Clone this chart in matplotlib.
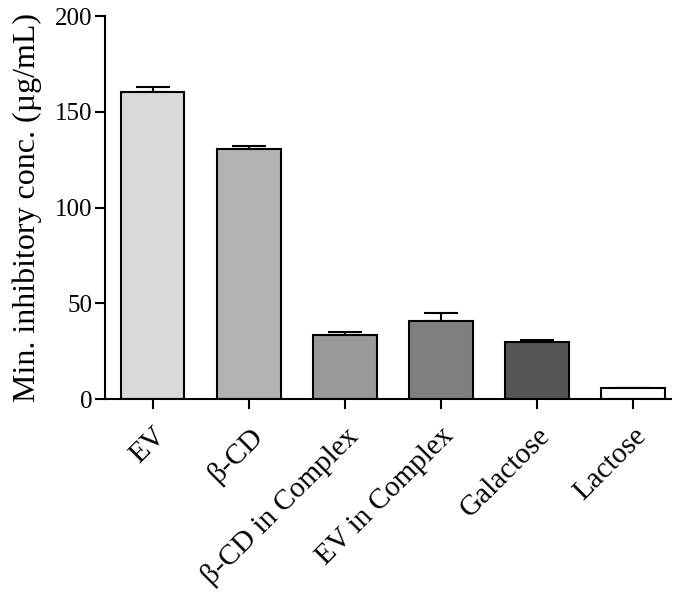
import matplotlib
matplotlib.use("Agg")
import matplotlib.pyplot as plt
import numpy as np

categories = ["EV", "β-CD", "β-CD in Complex", "EV in Complex", "Galactose", "Lactose"]
values = [160.3, 130.5, 33.4, 40.9, 29.6, 5.6]
errors = [2.7, 1.6, 1.8, 3.8, 1.2, 0.0]
colors = ["#d9d9d9", "#b3b3b3", "#999999", "#808080", "#555555", "#ffffff"]
yticks = [0, 50, 100, 150, 200]

plt.rcParams['font.family'] = ['Liberation Serif', 'DejaVu Serif']

fig = plt.figure(figsize=(6.85, 5.93), dpi=100)
ax = fig.add_axes([0.153, 0.327, 0.827, 0.646])

x = np.arange(len(categories))
ax.bar(x, values, width=0.66, color=colors, edgecolor="black", linewidth=1.5, zorder=2)
ax.errorbar(x, values, yerr=[np.zeros(len(errors)), errors], fmt="none",
            ecolor="black", elinewidth=1.5, capsize=12, capthick=1.5, zorder=1)

ax.set_ylim(0, 200)
ax.set_xlim(-0.5, 5.4)
ax.set_yticks(yticks)
ax.set_yticklabels([str(v) for v in yticks], fontsize=18)
ax.set_xticks(x)
ax.set_xticklabels(categories, rotation=45, ha="right", rotation_mode="anchor", fontsize=21)
ax.set_ylabel("Min. inhibitory conc. (µg/mL)", fontsize=23, labelpad=9)

for s in ["top", "right"]:
    ax.spines[s].set_visible(False)
for s in ["left", "bottom"]:
    ax.spines[s].set_linewidth(1.5)
ax.tick_params(axis="both", direction="out", length=7, width=1.5, pad=2)
ax.tick_params(axis="x", pad=10)

fig.savefig("out.png", dpi=100)
